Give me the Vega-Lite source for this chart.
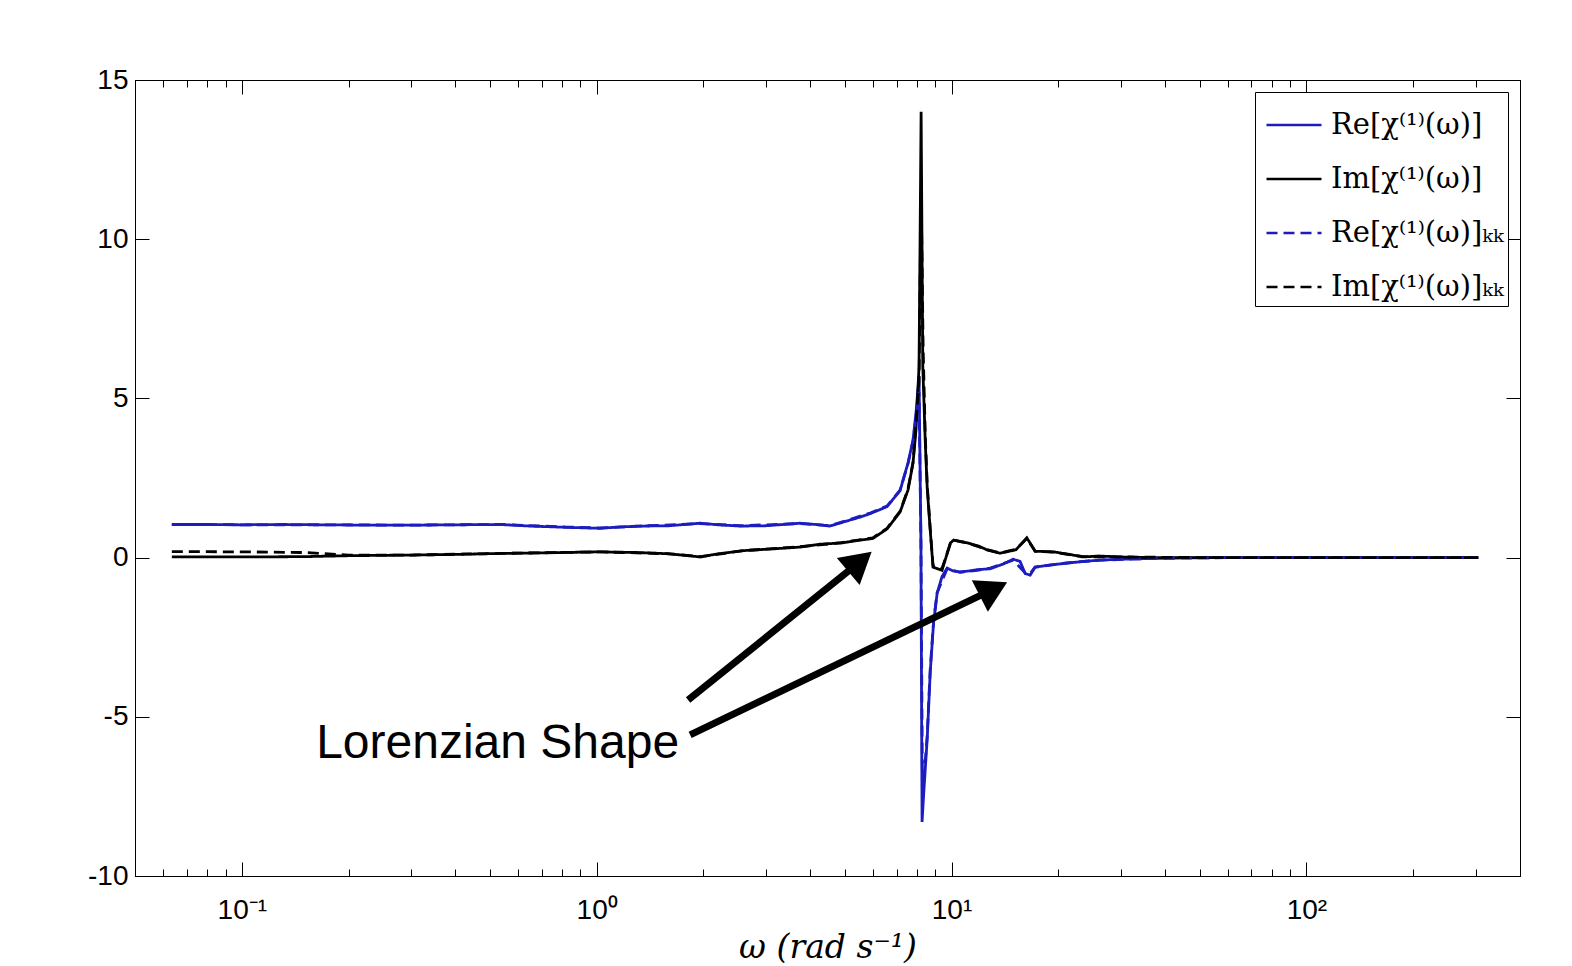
{
  "$schema": "https://vega.github.io/schema/vega-lite/v6.json",
  "width": 1385,
  "height": 796,
  "autosize": {"type": "none"},
  "padding": {"left": 135, "top": 80, "right": 52, "bottom": 90},
  "background": "white",
  "config": {
    "view": {"stroke": "black", "strokeWidth": 1},
    "legend": {
      "orient": "top-right",
      "offset": 12,
      "symbolType": "stroke",
      "symbolSize": 3025,
      "symbolStrokeWidth": 2.5,
      "symbolOffset": 6,
      "labelFont": "DejaVu Serif",
      "labelFontSize": 29,
      "labelColor": "black",
      "labelOffset": 8,
      "labelLimit": 400,
      "padding": 4,
      "rowPadding": 10,
      "strokeColor": "black",
      "fillColor": "white",
      "cornerRadius": 0
    }
  },
  "datasets": {
    "curves": [
      {"omega": 0.0635, "value": 1.04, "series": "Re[χ⁽¹⁾(ω)]"},
      {"omega": 0.08, "value": 1.04, "series": "Re[χ⁽¹⁾(ω)]"},
      {"omega": 0.1, "value": 1.03, "series": "Re[χ⁽¹⁾(ω)]"},
      {"omega": 0.13, "value": 1.04, "series": "Re[χ⁽¹⁾(ω)]"},
      {"omega": 0.17, "value": 1.03, "series": "Re[χ⁽¹⁾(ω)]"},
      {"omega": 0.22, "value": 1.02, "series": "Re[χ⁽¹⁾(ω)]"},
      {"omega": 0.3, "value": 1.02, "series": "Re[χ⁽¹⁾(ω)]"},
      {"omega": 0.4, "value": 1.03, "series": "Re[χ⁽¹⁾(ω)]"},
      {"omega": 0.534, "value": 1.04, "series": "Re[χ⁽¹⁾(ω)]"},
      {"omega": 0.65, "value": 0.99, "series": "Re[χ⁽¹⁾(ω)]"},
      {"omega": 0.825, "value": 0.95, "series": "Re[χ⁽¹⁾(ω)]"},
      {"omega": 1.02, "value": 0.92, "series": "Re[χ⁽¹⁾(ω)]"},
      {"omega": 1.15, "value": 0.96, "series": "Re[χ⁽¹⁾(ω)]"},
      {"omega": 1.325, "value": 0.99, "series": "Re[χ⁽¹⁾(ω)]"},
      {"omega": 1.6, "value": 1.0, "series": "Re[χ⁽¹⁾(ω)]"},
      {"omega": 1.956, "value": 1.08, "series": "Re[χ⁽¹⁾(ω)]"},
      {"omega": 2.2, "value": 1.03, "series": "Re[χ⁽¹⁾(ω)]"},
      {"omega": 2.54, "value": 0.99, "series": "Re[χ⁽¹⁾(ω)]"},
      {"omega": 3.0, "value": 1.0, "series": "Re[χ⁽¹⁾(ω)]"},
      {"omega": 3.74, "value": 1.08, "series": "Re[χ⁽¹⁾(ω)]"},
      {"omega": 4.26, "value": 1.03, "series": "Re[χ⁽¹⁾(ω)]"},
      {"omega": 4.54, "value": 0.99, "series": "Re[χ⁽¹⁾(ω)]"},
      {"omega": 4.9, "value": 1.1, "series": "Re[χ⁽¹⁾(ω)]"},
      {"omega": 5.18, "value": 1.18, "series": "Re[χ⁽¹⁾(ω)]"},
      {"omega": 5.52, "value": 1.27, "series": "Re[χ⁽¹⁾(ω)]"},
      {"omega": 5.9, "value": 1.38, "series": "Re[χ⁽¹⁾(ω)]"},
      {"omega": 6.58, "value": 1.6, "series": "Re[χ⁽¹⁾(ω)]"},
      {"omega": 7.16, "value": 2.1, "series": "Re[χ⁽¹⁾(ω)]"},
      {"omega": 7.54, "value": 2.97, "series": "Re[χ⁽¹⁾(ω)]"},
      {"omega": 7.79, "value": 3.7, "series": "Re[χ⁽¹⁾(ω)]"},
      {"omega": 7.95, "value": 4.6, "series": "Re[χ⁽¹⁾(ω)]"},
      {"omega": 8.1, "value": 5.7, "series": "Re[χ⁽¹⁾(ω)]"},
      {"omega": 8.2, "value": 0.5, "series": "Re[χ⁽¹⁾(ω)]"},
      {"omega": 8.26, "value": -8.3, "series": "Re[χ⁽¹⁾(ω)]"},
      {"omega": 8.35, "value": -7.4, "series": "Re[χ⁽¹⁾(ω)]"},
      {"omega": 8.54, "value": -5.7, "series": "Re[χ⁽¹⁾(ω)]"},
      {"omega": 8.71, "value": -3.6, "series": "Re[χ⁽¹⁾(ω)]"},
      {"omega": 8.9, "value": -2.06, "series": "Re[χ⁽¹⁾(ω)]"},
      {"omega": 9.11, "value": -1.12, "series": "Re[χ⁽¹⁾(ω)]"},
      {"omega": 9.4, "value": -0.6, "series": "Re[χ⁽¹⁾(ω)]"},
      {"omega": 9.72, "value": -0.33, "series": "Re[χ⁽¹⁾(ω)]"},
      {"omega": 10.1, "value": -0.42, "series": "Re[χ⁽¹⁾(ω)]"},
      {"omega": 10.57, "value": -0.45, "series": "Re[χ⁽¹⁾(ω)]"},
      {"omega": 11.2, "value": -0.42, "series": "Re[χ⁽¹⁾(ω)]"},
      {"omega": 11.81, "value": -0.38, "series": "Re[χ⁽¹⁾(ω)]"},
      {"omega": 12.85, "value": -0.35, "series": "Re[χ⁽¹⁾(ω)]"},
      {"omega": 14.0, "value": -0.2, "series": "Re[χ⁽¹⁾(ω)]"},
      {"omega": 14.92, "value": -0.05, "series": "Re[χ⁽¹⁾(ω)]"},
      {"omega": 15.6, "value": -0.12, "series": "Re[χ⁽¹⁾(ω)]"},
      {"omega": 16.13, "value": -0.5, "series": "Re[χ⁽¹⁾(ω)]"},
      {"omega": 16.66, "value": -0.55, "series": "Re[χ⁽¹⁾(ω)]"},
      {"omega": 17.2, "value": -0.3, "series": "Re[χ⁽¹⁾(ω)]"},
      {"omega": 18.97, "value": -0.23, "series": "Re[χ⁽¹⁾(ω)]"},
      {"omega": 21, "value": -0.18, "series": "Re[χ⁽¹⁾(ω)]"},
      {"omega": 23.5, "value": -0.12, "series": "Re[χ⁽¹⁾(ω)]"},
      {"omega": 26.2, "value": -0.08, "series": "Re[χ⁽¹⁾(ω)]"},
      {"omega": 30, "value": -0.05, "series": "Re[χ⁽¹⁾(ω)]"},
      {"omega": 36.3, "value": -0.03, "series": "Re[χ⁽¹⁾(ω)]"},
      {"omega": 45, "value": -0.01, "series": "Re[χ⁽¹⁾(ω)]"},
      {"omega": 60, "value": 0, "series": "Re[χ⁽¹⁾(ω)]"},
      {"omega": 100, "value": 0, "series": "Re[χ⁽¹⁾(ω)]"},
      {"omega": 200, "value": 0, "series": "Re[χ⁽¹⁾(ω)]"},
      {"omega": 305, "value": 0, "series": "Re[χ⁽¹⁾(ω)]"},

      {"omega": 0.0635, "value": 0.02, "series": "Im[χ⁽¹⁾(ω)]"},
      {"omega": 0.1, "value": 0.02, "series": "Im[χ⁽¹⁾(ω)]"},
      {"omega": 0.15, "value": 0.03, "series": "Im[χ⁽¹⁾(ω)]"},
      {"omega": 0.2, "value": 0.06, "series": "Im[χ⁽¹⁾(ω)]"},
      {"omega": 0.3, "value": 0.08, "series": "Im[χ⁽¹⁾(ω)]"},
      {"omega": 0.4, "value": 0.1, "series": "Im[χ⁽¹⁾(ω)]"},
      {"omega": 0.534, "value": 0.13, "series": "Im[χ⁽¹⁾(ω)]"},
      {"omega": 0.7, "value": 0.15, "series": "Im[χ⁽¹⁾(ω)]"},
      {"omega": 1.02, "value": 0.18, "series": "Im[χ⁽¹⁾(ω)]"},
      {"omega": 1.3, "value": 0.16, "series": "Im[χ⁽¹⁾(ω)]"},
      {"omega": 1.6, "value": 0.12, "series": "Im[χ⁽¹⁾(ω)]"},
      {"omega": 1.96, "value": 0.02, "series": "Im[χ⁽¹⁾(ω)]"},
      {"omega": 2.2, "value": 0.12, "series": "Im[χ⁽¹⁾(ω)]"},
      {"omega": 2.6, "value": 0.22, "series": "Im[χ⁽¹⁾(ω)]"},
      {"omega": 3.2, "value": 0.28, "series": "Im[χ⁽¹⁾(ω)]"},
      {"omega": 3.74, "value": 0.33, "series": "Im[χ⁽¹⁾(ω)]"},
      {"omega": 4.26, "value": 0.42, "series": "Im[χ⁽¹⁾(ω)]"},
      {"omega": 4.9, "value": 0.46, "series": "Im[χ⁽¹⁾(ω)]"},
      {"omega": 5.52, "value": 0.55, "series": "Im[χ⁽¹⁾(ω)]"},
      {"omega": 6.0, "value": 0.6, "series": "Im[χ⁽¹⁾(ω)]"},
      {"omega": 6.58, "value": 0.9, "series": "Im[χ⁽¹⁾(ω)]"},
      {"omega": 7.16, "value": 1.43, "series": "Im[χ⁽¹⁾(ω)]"},
      {"omega": 7.54, "value": 2.12, "series": "Im[χ⁽¹⁾(ω)]"},
      {"omega": 7.79, "value": 2.97, "series": "Im[χ⁽¹⁾(ω)]"},
      {"omega": 7.94, "value": 4.0, "series": "Im[χ⁽¹⁾(ω)]"},
      {"omega": 8.1, "value": 6.0, "series": "Im[χ⁽¹⁾(ω)]"},
      {"omega": 8.21, "value": 14.0, "series": "Im[χ⁽¹⁾(ω)]"},
      {"omega": 8.3, "value": 6.0, "series": "Im[χ⁽¹⁾(ω)]"},
      {"omega": 8.43, "value": 3.7, "series": "Im[χ⁽¹⁾(ω)]"},
      {"omega": 8.54, "value": 2.2, "series": "Im[χ⁽¹⁾(ω)]"},
      {"omega": 8.71, "value": 0.86, "series": "Im[χ⁽¹⁾(ω)]"},
      {"omega": 8.87, "value": -0.3, "series": "Im[χ⁽¹⁾(ω)]"},
      {"omega": 9.4, "value": -0.4, "series": "Im[χ⁽¹⁾(ω)]"},
      {"omega": 9.93, "value": 0.46, "series": "Im[χ⁽¹⁾(ω)]"},
      {"omega": 10.14, "value": 0.55, "series": "Im[χ⁽¹⁾(ω)]"},
      {"omega": 10.6, "value": 0.5, "series": "Im[χ⁽¹⁾(ω)]"},
      {"omega": 11.1, "value": 0.46, "series": "Im[χ⁽¹⁾(ω)]"},
      {"omega": 12.0, "value": 0.35, "series": "Im[χ⁽¹⁾(ω)]"},
      {"omega": 12.6, "value": 0.24, "series": "Im[χ⁽¹⁾(ω)]"},
      {"omega": 13.7, "value": 0.14, "series": "Im[χ⁽¹⁾(ω)]"},
      {"omega": 14.3, "value": 0.18, "series": "Im[χ⁽¹⁾(ω)]"},
      {"omega": 15.2, "value": 0.25, "series": "Im[χ⁽¹⁾(ω)]"},
      {"omega": 16.3, "value": 0.62, "series": "Im[χ⁽¹⁾(ω)]"},
      {"omega": 17.0, "value": 0.3, "series": "Im[χ⁽¹⁾(ω)]"},
      {"omega": 17.2, "value": 0.2, "series": "Im[χ⁽¹⁾(ω)]"},
      {"omega": 19.4, "value": 0.18, "series": "Im[χ⁽¹⁾(ω)]"},
      {"omega": 21.5, "value": 0.1, "series": "Im[χ⁽¹⁾(ω)]"},
      {"omega": 23.5, "value": 0.02, "series": "Im[χ⁽¹⁾(ω)]"},
      {"omega": 26, "value": 0.05, "series": "Im[χ⁽¹⁾(ω)]"},
      {"omega": 30, "value": 0.02, "series": "Im[χ⁽¹⁾(ω)]"},
      {"omega": 36, "value": 0.0, "series": "Im[χ⁽¹⁾(ω)]"},
      {"omega": 50, "value": 0, "series": "Im[χ⁽¹⁾(ω)]"},
      {"omega": 100, "value": 0, "series": "Im[χ⁽¹⁾(ω)]"},
      {"omega": 305, "value": 0, "series": "Im[χ⁽¹⁾(ω)]"},

      {"omega": 0.0635, "value": 1.04, "series": "Re[χ⁽¹⁾(ω)]ₖₖ"},
      {"omega": 0.1, "value": 1.03, "series": "Re[χ⁽¹⁾(ω)]ₖₖ"},
      {"omega": 0.17, "value": 1.03, "series": "Re[χ⁽¹⁾(ω)]ₖₖ"},
      {"omega": 0.3, "value": 1.02, "series": "Re[χ⁽¹⁾(ω)]ₖₖ"},
      {"omega": 0.534, "value": 1.04, "series": "Re[χ⁽¹⁾(ω)]ₖₖ"},
      {"omega": 0.825, "value": 0.96, "series": "Re[χ⁽¹⁾(ω)]ₖₖ"},
      {"omega": 1.02, "value": 0.93, "series": "Re[χ⁽¹⁾(ω)]ₖₖ"},
      {"omega": 1.325, "value": 0.99, "series": "Re[χ⁽¹⁾(ω)]ₖₖ"},
      {"omega": 1.956, "value": 1.07, "series": "Re[χ⁽¹⁾(ω)]ₖₖ"},
      {"omega": 2.54, "value": 1.0, "series": "Re[χ⁽¹⁾(ω)]ₖₖ"},
      {"omega": 3.74, "value": 1.07, "series": "Re[χ⁽¹⁾(ω)]ₖₖ"},
      {"omega": 4.54, "value": 1.0, "series": "Re[χ⁽¹⁾(ω)]ₖₖ"},
      {"omega": 5.18, "value": 1.2, "series": "Re[χ⁽¹⁾(ω)]ₖₖ"},
      {"omega": 5.9, "value": 1.4, "series": "Re[χ⁽¹⁾(ω)]ₖₖ"},
      {"omega": 6.58, "value": 1.62, "series": "Re[χ⁽¹⁾(ω)]ₖₖ"},
      {"omega": 7.16, "value": 2.12, "series": "Re[χ⁽¹⁾(ω)]ₖₖ"},
      {"omega": 7.54, "value": 2.95, "series": "Re[χ⁽¹⁾(ω)]ₖₖ"},
      {"omega": 7.79, "value": 3.65, "series": "Re[χ⁽¹⁾(ω)]ₖₖ"},
      {"omega": 8.1, "value": 5.2, "series": "Re[χ⁽¹⁾(ω)]ₖₖ"},
      {"omega": 8.2, "value": 0.5, "series": "Re[χ⁽¹⁾(ω)]ₖₖ"},
      {"omega": 8.28, "value": -7.2, "series": "Re[χ⁽¹⁾(ω)]ₖₖ"},
      {"omega": 8.38, "value": -6.8, "series": "Re[χ⁽¹⁾(ω)]ₖₖ"},
      {"omega": 8.54, "value": -5.6, "series": "Re[χ⁽¹⁾(ω)]ₖₖ"},
      {"omega": 8.71, "value": -3.5, "series": "Re[χ⁽¹⁾(ω)]ₖₖ"},
      {"omega": 8.9, "value": -2.0, "series": "Re[χ⁽¹⁾(ω)]ₖₖ"},
      {"omega": 9.11, "value": -1.1, "series": "Re[χ⁽¹⁾(ω)]ₖₖ"},
      {"omega": 9.72, "value": -0.35, "series": "Re[χ⁽¹⁾(ω)]ₖₖ"},
      {"omega": 10.57, "value": -0.46, "series": "Re[χ⁽¹⁾(ω)]ₖₖ"},
      {"omega": 11.81, "value": -0.4, "series": "Re[χ⁽¹⁾(ω)]ₖₖ"},
      {"omega": 12.85, "value": -0.33, "series": "Re[χ⁽¹⁾(ω)]ₖₖ"},
      {"omega": 14.92, "value": -0.08, "series": "Re[χ⁽¹⁾(ω)]ₖₖ"},
      {"omega": 16.13, "value": -0.48, "series": "Re[χ⁽¹⁾(ω)]ₖₖ"},
      {"omega": 16.66, "value": -0.5, "series": "Re[χ⁽¹⁾(ω)]ₖₖ"},
      {"omega": 17.2, "value": -0.3, "series": "Re[χ⁽¹⁾(ω)]ₖₖ"},
      {"omega": 21, "value": -0.17, "series": "Re[χ⁽¹⁾(ω)]ₖₖ"},
      {"omega": 26.2, "value": -0.08, "series": "Re[χ⁽¹⁾(ω)]ₖₖ"},
      {"omega": 36.3, "value": -0.03, "series": "Re[χ⁽¹⁾(ω)]ₖₖ"},
      {"omega": 60, "value": 0, "series": "Re[χ⁽¹⁾(ω)]ₖₖ"},
      {"omega": 150, "value": 0, "series": "Re[χ⁽¹⁾(ω)]ₖₖ"},
      {"omega": 305, "value": 0, "series": "Re[χ⁽¹⁾(ω)]ₖₖ"},

      {"omega": 0.0635, "value": 0.19, "series": "Im[χ⁽¹⁾(ω)]ₖₖ"},
      {"omega": 0.1, "value": 0.18, "series": "Im[χ⁽¹⁾(ω)]ₖₖ"},
      {"omega": 0.15, "value": 0.16, "series": "Im[χ⁽¹⁾(ω)]ₖₖ"},
      {"omega": 0.2, "value": 0.08, "series": "Im[χ⁽¹⁾(ω)]ₖₖ"},
      {"omega": 0.3, "value": 0.08, "series": "Im[χ⁽¹⁾(ω)]ₖₖ"},
      {"omega": 0.534, "value": 0.13, "series": "Im[χ⁽¹⁾(ω)]ₖₖ"},
      {"omega": 1.02, "value": 0.18, "series": "Im[χ⁽¹⁾(ω)]ₖₖ"},
      {"omega": 1.6, "value": 0.12, "series": "Im[χ⁽¹⁾(ω)]ₖₖ"},
      {"omega": 1.96, "value": 0.03, "series": "Im[χ⁽¹⁾(ω)]ₖₖ"},
      {"omega": 2.6, "value": 0.22, "series": "Im[χ⁽¹⁾(ω)]ₖₖ"},
      {"omega": 3.74, "value": 0.34, "series": "Im[χ⁽¹⁾(ω)]ₖₖ"},
      {"omega": 4.9, "value": 0.47, "series": "Im[χ⁽¹⁾(ω)]ₖₖ"},
      {"omega": 6.0, "value": 0.62, "series": "Im[χ⁽¹⁾(ω)]ₖₖ"},
      {"omega": 6.58, "value": 0.92, "series": "Im[χ⁽¹⁾(ω)]ₖₖ"},
      {"omega": 7.16, "value": 1.45, "series": "Im[χ⁽¹⁾(ω)]ₖₖ"},
      {"omega": 7.54, "value": 2.15, "series": "Im[χ⁽¹⁾(ω)]ₖₖ"},
      {"omega": 7.79, "value": 3.0, "series": "Im[χ⁽¹⁾(ω)]ₖₖ"},
      {"omega": 7.94, "value": 4.2, "series": "Im[χ⁽¹⁾(ω)]ₖₖ"},
      {"omega": 8.1, "value": 5.5, "series": "Im[χ⁽¹⁾(ω)]ₖₖ"},
      {"omega": 8.21, "value": 11.5, "series": "Im[χ⁽¹⁾(ω)]ₖₖ"},
      {"omega": 8.32, "value": 6.5, "series": "Im[χ⁽¹⁾(ω)]ₖₖ"},
      {"omega": 8.43, "value": 3.9, "series": "Im[χ⁽¹⁾(ω)]ₖₖ"},
      {"omega": 8.54, "value": 2.3, "series": "Im[χ⁽¹⁾(ω)]ₖₖ"},
      {"omega": 8.71, "value": 0.9, "series": "Im[χ⁽¹⁾(ω)]ₖₖ"},
      {"omega": 8.87, "value": -0.25, "series": "Im[χ⁽¹⁾(ω)]ₖₖ"},
      {"omega": 9.4, "value": -0.35, "series": "Im[χ⁽¹⁾(ω)]ₖₖ"},
      {"omega": 9.93, "value": 0.45, "series": "Im[χ⁽¹⁾(ω)]ₖₖ"},
      {"omega": 10.14, "value": 0.55, "series": "Im[χ⁽¹⁾(ω)]ₖₖ"},
      {"omega": 11.1, "value": 0.46, "series": "Im[χ⁽¹⁾(ω)]ₖₖ"},
      {"omega": 12.6, "value": 0.25, "series": "Im[χ⁽¹⁾(ω)]ₖₖ"},
      {"omega": 13.7, "value": 0.15, "series": "Im[χ⁽¹⁾(ω)]ₖₖ"},
      {"omega": 15.2, "value": 0.26, "series": "Im[χ⁽¹⁾(ω)]ₖₖ"},
      {"omega": 16.3, "value": 0.6, "series": "Im[χ⁽¹⁾(ω)]ₖₖ"},
      {"omega": 17.2, "value": 0.2, "series": "Im[χ⁽¹⁾(ω)]ₖₖ"},
      {"omega": 19.4, "value": 0.17, "series": "Im[χ⁽¹⁾(ω)]ₖₖ"},
      {"omega": 23.5, "value": 0.03, "series": "Im[χ⁽¹⁾(ω)]ₖₖ"},
      {"omega": 30, "value": 0.02, "series": "Im[χ⁽¹⁾(ω)]ₖₖ"},
      {"omega": 50, "value": 0, "series": "Im[χ⁽¹⁾(ω)]ₖₖ"},
      {"omega": 305, "value": 0, "series": "Im[χ⁽¹⁾(ω)]ₖₖ"}
    ],
    "arrows": [
      {"omega": 1.81, "value": -4.47, "omega2": 5.52, "value2": -0.13},
      {"omega": 1.834, "value": -5.57, "omega2": 13.13, "value2": -0.99}
    ],
    "heads": [
      {"omega": 5.52, "value": -0.13, "arrow": "a"},
      {"omega": 13.13, "value": -0.99, "arrow": "b"}
    ],
    "label": [
      {"omega": 0.162, "value": -6.29, "text": "Lorenzian Shape"}
    ]
  },
  "resolve": {"axis": {"x": "independent", "y": "independent"}},
  "layer": [
    {
      "data": {"name": "curves"},
      "mark": {"type": "line", "strokeWidth": 2.8, "clip": true},
      "encoding": {
        "x": {
          "field": "omega", "type": "quantitative",
          "scale": {"type": "log", "domain": [0.05, 400]},
          "axis": {
            "orient": "bottom",
            "values": [0.05, 0.06, 0.07, 0.08, 0.09, 0.1, 0.2, 0.3, 0.4, 0.5, 0.6, 0.7, 0.8, 0.9, 1, 2, 3, 4, 5, 6, 7, 8, 9, 10, 20, 30, 40, 50, 60, 70, 80, 90, 100, 200, 300],
            "labelExpr": "datum.value == 0.1 ? '10⁻¹' : datum.value == 1 ? '10⁰' : datum.value == 10 ? '10¹' : datum.value == 100 ? '10²' : ''",
            "tickSize": {"condition": {"test": "datum.value == 0.1 || datum.value == 1 || datum.value == 10 || datum.value == 100", "value": -14}, "value": -7},
            "tickColor": "black",
            "domainColor": "black",
            "labelFont": "Liberation Sans",
            "labelFontSize": 28,
            "labelColor": "black",
            "labelPadding": 34,
            "labelFlush": false,
            "labelOverlap": false,
            "grid": false,
            "title": "ω (rad s⁻¹)",
            "titleFont": "DejaVu Serif",
            "titleFontStyle": "italic",
            "titleFontWeight": "normal",
            "titleFontSize": 33,
            "titleColor": "black",
            "titlePadding": 0
          }
        },
        "y": {
          "field": "value", "type": "quantitative",
          "scale": {"domain": [-10, 15], "nice": false, "zero": false},
          "axis": {
            "orient": "left",
            "values": [-10, -5, 0, 5, 10, 15],
            "labelExpr": "toString(datum.value)",
            "tickSize": -14,
            "tickColor": "black",
            "domainColor": "black",
            "labelFont": "Liberation Sans",
            "labelFontSize": 28,
            "labelColor": "black",
            "labelPadding": 21,
            "labelFlush": false,
            "grid": false,
            "title": null
          }
        },
        "color": {
          "field": "series", "type": "nominal",
          "scale": {"domain": ["Re[χ⁽¹⁾(ω)]", "Im[χ⁽¹⁾(ω)]", "Re[χ⁽¹⁾(ω)]ₖₖ", "Im[χ⁽¹⁾(ω)]ₖₖ"], "range": ["#1c1cbf", "#000000", "#1c1cbf", "#000000"]},
          "legend": {"title": null}
        },
        "strokeDash": {
          "field": "series", "type": "nominal",
          "scale": {"domain": ["Re[χ⁽¹⁾(ω)]", "Im[χ⁽¹⁾(ω)]", "Re[χ⁽¹⁾(ω)]ₖₖ", "Im[χ⁽¹⁾(ω)]ₖₖ"], "range": [[1, 0], [1, 0], [11, 6], [11, 6]]},
          "legend": {"title": null}
        }
      }
    },
    {
      "data": {"name": "arrows"},
      "mark": {"type": "rule", "strokeWidth": 7, "color": "black"},
      "encoding": {
        "x": {
          "field": "omega", "type": "quantitative",
          "scale": {"type": "log", "domain": [0.05, 400]},
          "axis": {
            "orient": "top",
            "values": [0.05, 0.06, 0.07, 0.08, 0.09, 0.1, 0.2, 0.3, 0.4, 0.5, 0.6, 0.7, 0.8, 0.9, 1, 2, 3, 4, 5, 6, 7, 8, 9, 10, 20, 30, 40, 50, 60, 70, 80, 90, 100, 200, 300],
            "labels": false,
            "tickSize": {"condition": {"test": "datum.value == 0.1 || datum.value == 1 || datum.value == 10 || datum.value == 100", "value": -14}, "value": -7},
            "tickColor": "black",
            "domainColor": "black",
            "grid": false,
            "title": null
          }
        },
        "x2": {"field": "omega2"},
        "y": {
          "field": "value", "type": "quantitative",
          "scale": {"domain": [-10, 15], "nice": false, "zero": false},
          "axis": {
            "orient": "right",
            "values": [-10, -5, 0, 5, 10, 15],
            "labels": false,
            "tickSize": -14,
            "tickColor": "black",
            "domainColor": "black",
            "grid": false,
            "title": null
          }
        },
        "y2": {"field": "value2"}
      }
    },
    {
      "data": {"name": "heads"},
      "transform": [{"filter": "datum.arrow == 'a'"}],
      "mark": {"type": "point", "shape": "triangle-up", "filled": true, "angle": 49.8, "size": 1250, "color": "black", "opacity": 1},
      "encoding": {
        "x": {"field": "omega", "type": "quantitative", "scale": {"type": "log", "domain": [0.05, 400]}, "axis": null},
        "y": {"field": "value", "type": "quantitative", "scale": {"domain": [-10, 15], "nice": false, "zero": false}, "axis": null}
      }
    },
    {
      "data": {"name": "heads"},
      "transform": [{"filter": "datum.arrow == 'b'"}],
      "mark": {"type": "point", "shape": "triangle-up", "filled": true, "angle": 63, "size": 1250, "color": "black", "opacity": 1},
      "encoding": {
        "x": {"field": "omega", "type": "quantitative", "scale": {"type": "log", "domain": [0.05, 400]}, "axis": null},
        "y": {"field": "value", "type": "quantitative", "scale": {"domain": [-10, 15], "nice": false, "zero": false}, "axis": null}
      }
    },
    {
      "data": {"name": "label"},
      "mark": {"type": "text", "font": "Liberation Sans", "fontSize": 48, "align": "left", "baseline": "alphabetic", "color": "black"},
      "encoding": {
        "x": {"field": "omega", "type": "quantitative", "scale": {"type": "log", "domain": [0.05, 400]}, "axis": null},
        "y": {"field": "value", "type": "quantitative", "scale": {"domain": [-10, 15], "nice": false, "zero": false}, "axis": null},
        "text": {"field": "text"}
      }
    }
  ]
}
